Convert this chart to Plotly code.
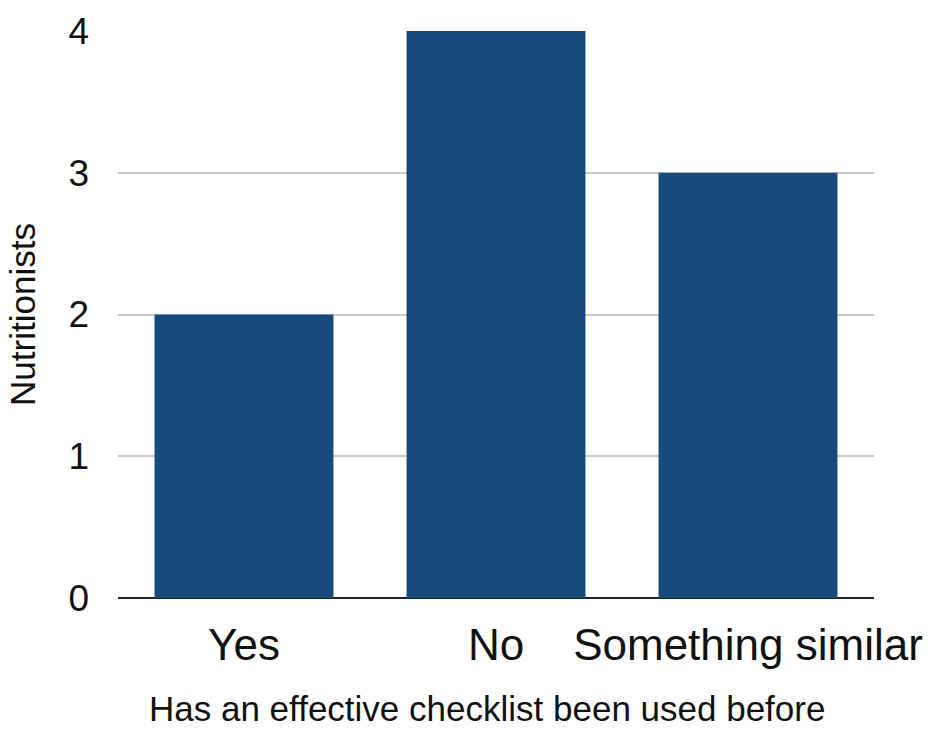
import plotly.graph_objects as go

# Survey responses: has an effective checklist been used before?
categories = ["Yes", "No", "Something similar"]
counts = [2, 4, 3]
y_ticks = [0, 1, 2, 3, 4]
x_title = "Has an effective checklist been used before"
y_title = "Nutritionists"

BAR_COLOR = "#154a7b"
TEXT_COLOR = "#111111"
FONT = "Liberation Sans, Arial, Helvetica, sans-serif"

fig = go.Figure(
    go.Bar(
        x=categories,
        y=counts,
        marker=dict(color=BAR_COLOR, line=dict(width=0)),
        hoverinfo="x+y",
    )
)

fig.update_layout(
    width=928,
    height=731,
    margin=dict(l=118, r=54, t=31, b=133),
    plot_bgcolor="white",
    paper_bgcolor="white",
    bargap=0.29,
    showlegend=False,
    font=dict(family=FONT, color=TEXT_COLOR),
)

# x-axis title placed as a paper-anchored label under the category names
fig.add_annotation(
    text=x_title,
    xref="paper", yref="paper",
    x=0.488, y=-0.195,
    xanchor="center", yanchor="middle",
    showarrow=False,
    borderpad=0,
    font=dict(size=35, family=FONT, color=TEXT_COLOR),
)

fig.update_xaxes(
    tickfont=dict(size=44, family=FONT, color=TEXT_COLOR),
    ticklabelstandoff=17,
    showgrid=False,
    showline=False,
    ticks="",
    automargin=False,
)

fig.update_yaxes(
    title=dict(text=y_title,
               font=dict(size=35, family=FONT, color=TEXT_COLOR), standoff=22),
    tickfont=dict(size=37, family=FONT, color=TEXT_COLOR),
    tickvals=y_ticks,
    range=[0, 4],
    showgrid=True,
    gridcolor="#cccccc",
    gridwidth=1.5,
    zeroline=True,
    zerolinecolor="#222222",
    zerolinewidth=2,
    showline=False,
    ticks="",
    ticklabelstandoff=28,
    automargin=False,
)

fig.write_html("out.html")
